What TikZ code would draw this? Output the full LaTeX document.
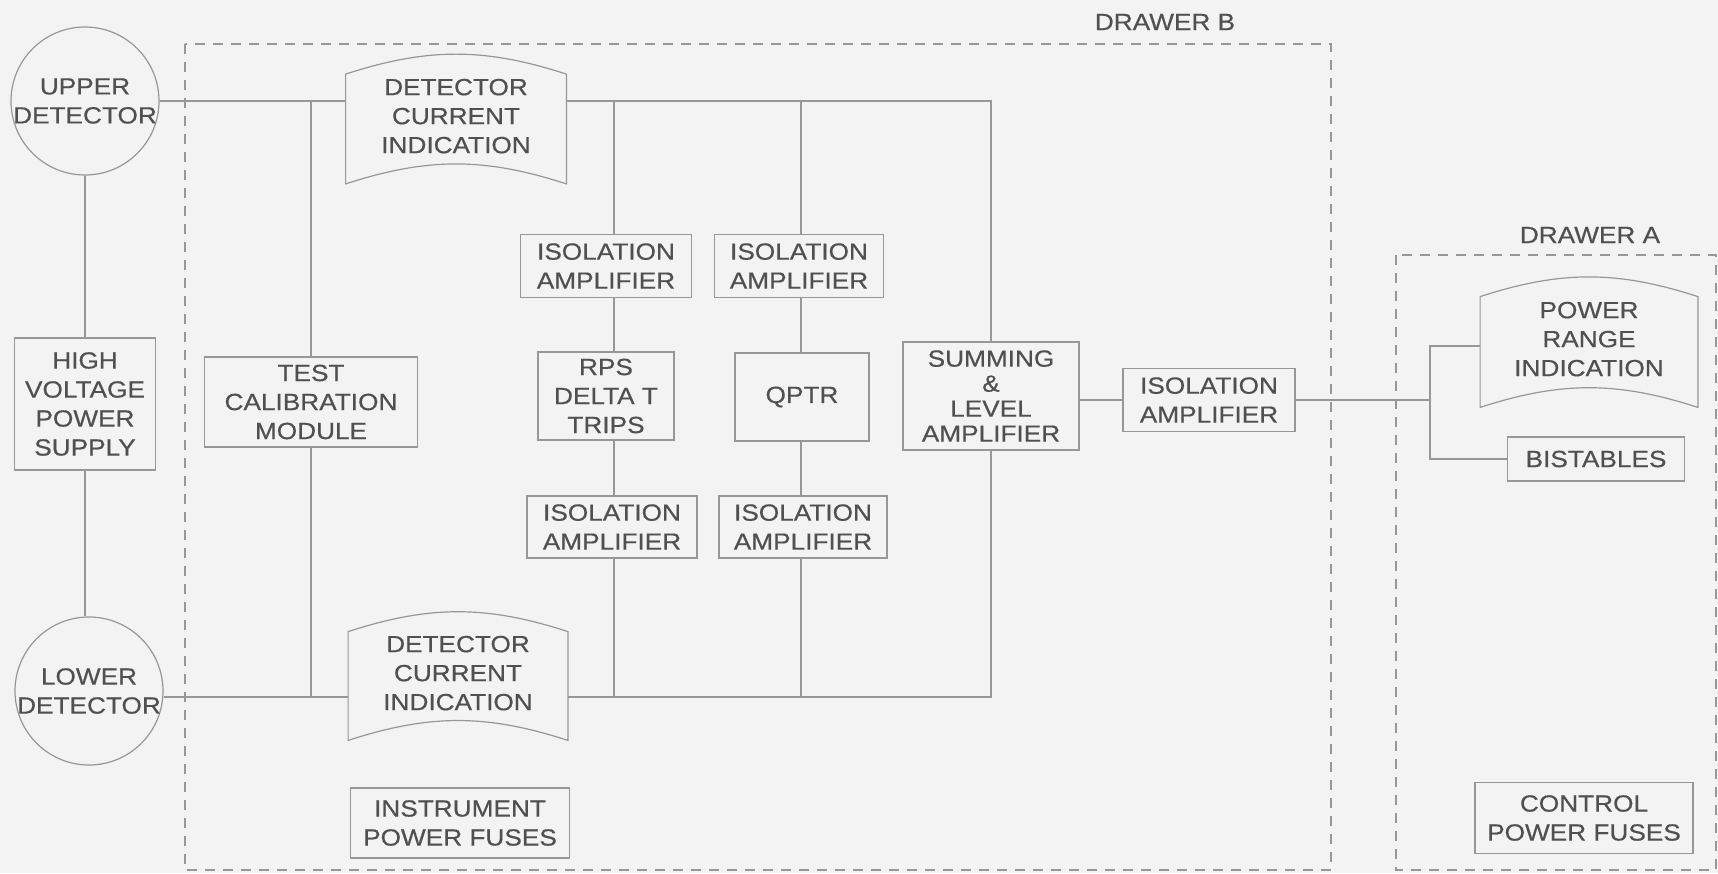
\documentclass[tikz,border=0pt]{standalone}
\usepackage{fontspec}
\setmainfont{Liberation Sans}[FakeStretch=1.12, FakeBold=0.5]
\usetikzlibrary{calc}
\definecolor{paper}{HTML}{F3F3F3}
\definecolor{ink}{HTML}{505050}
\definecolor{linegray}{HTML}{979797}
\tikzset{
  blk/.style={draw=linegray, line width=0.6pt, align=center, text=ink, inner sep=0pt},
  sz/.style 2 args={minimum width=#1*0.5pt, minimum height=#2*0.5pt},
  det/.style={circle, draw=linegray, line width=0.6pt, align=center, text=ink, inner sep=0pt, minimum size=74pt},
  banner/.style={align=center, text=ink, inner sep=0pt, text depth=13pt},
  conn/.style={draw=linegray, line width=0.7pt},
  drawer/.style={draw=linegray, line width=0.7pt, dash pattern=on 5pt off 4pt},
  lbl/.style={text=ink}
}
\begin{document}
\begin{tikzpicture}[x=0.5pt, y=-0.5pt, every node/.style={font=\fontsize{11.7}{14.5}\selectfont}]
\fill[paper] (0,0) rectangle (1718,873);
\useasboundingbox (0,0) rectangle (1718,873);
\draw[drawer] (185,44) rectangle (1331,870);
\draw[drawer] (1396,255) rectangle (1716,870);
\node[lbl] (drb) at (1165,22) {DRAWER B};
\node[lbl] (dra) at (1590,235) {DRAWER A};

\node[det] (updet) at (85,101) {\makebox[0pt]{UPPER}\\\makebox[0pt]{DETECTOR}};
\node[det] (lodet) at (89,691) {\makebox[0pt]{LOWER}\\\makebox[0pt]{DETECTOR}};
\node[blk, sz={141}{132}] (hvps) at (85,404) {HIGH\\VOLTAGE\\POWER\\SUPPLY};
\node[blk, sz={213}{90}] (tcm) at (311,402) {TEST\\CALIBRATION\\MODULE};
\node[banner, sz={220}{109}] (dci1) at (456,129) {DETECTOR\\CURRENT\\INDICATION};
\node[banner, sz={219}{108}] (dci2) at (458,686) {DETECTOR\\CURRENT\\INDICATION};
\node[blk, sz={171}{63}] (isoa) at (606,266) {ISOLATION\\AMPLIFIER};
\node[blk, sz={169}{63}] (isob) at (799,266) {ISOLATION\\AMPLIFIER};
\node[blk, sz={136}{88}] (rps) at (606,396) {RPS\\DELTA T\\TRIPS};
\node[blk, sz={134}{88}] (qptr) at (802,397) {QPTR};
\node[blk, sz={170}{62}] (isoc) at (612,527) {ISOLATION\\AMPLIFIER};
\node[blk, sz={168}{62}] (isod) at (803,527) {ISOLATION\\AMPLIFIER};
\node[blk, sz={176}{108}, font=\fontsize{11.7}{12.5}\selectfont] (summ) at (991,396) {SUMMING\\\&\\LEVEL\\AMPLIFIER};
\node[blk, sz={172}{63}] (isoe) at (1209,400) {ISOLATION\\AMPLIFIER};
\node[banner, sz={217}{110}] (pri) at (1589,352) {POWER\\RANGE\\INDICATION};
\node[blk, sz={177}{44}] (bist) at (1596,459) {BISTABLES};
\node[blk, sz={219}{70}] (ipf) at (460,823) {INSTRUMENT\\POWER FUSES};
\node[blk, sz={218}{71}] (cpf) at (1584,818) {CONTROL\\POWER FUSES};

\foreach \n in {dci1,dci2,pri}
  \draw[conn, line width=0.6pt] (\n.north west) to[bend left=18] (\n.north east) -- (\n.south east) to[bend right=18] (\n.south west) -- cycle;

\coordinate (ta) at (614,101);
\coordinate (tb) at (801,101);
\coordinate (lbus) at (993,697);
\coordinate (brt) at (1430,346);

\draw[conn] (updet.south) -- (updet.south |- hvps.north);
\draw[conn] (hvps.south) -- (hvps.south |- lodet.north);
\draw[conn] (updet.east) -- (updet.east -| dci1.west);
\draw[conn] (tcm.north) -- (tcm.north |- updet.east);
\draw[conn] (dci1.east |- updet.east) -| (summ.north);
\draw[conn] (ta) -- (ta |- isoa.north);
\draw[conn] (tb) -- (tb |- isob.north);
\draw[conn] (ta |- isoa.south) -- (ta |- rps.north);
\draw[conn] (tb |- isob.south) -- (tb |- qptr.north);
\draw[conn] (ta |- rps.south) -- (ta |- isoc.north);
\draw[conn] (tb |- qptr.south) -- (tb |- isod.north);
\draw[conn] (ta |- isoc.south) -- (ta |- lbus);
\draw[conn] (tb |- isod.south) -- (tb |- lbus);
\draw[conn] (summ.south) |- (lbus -| dci2.east);
\draw[conn] (lodet.east |- lbus) -- (lbus -| dci2.west);
\draw[conn] (tcm.south) -- (tcm.south |- lbus);
\draw[conn] (summ.east |- isoe.west) -- (isoe.west);
\draw[conn] (isoe.east) -- (isoe.east -| brt);
\draw[conn] (bist.west) -| (brt) -- (brt -| pri.west);
\end{tikzpicture}
\end{document}
